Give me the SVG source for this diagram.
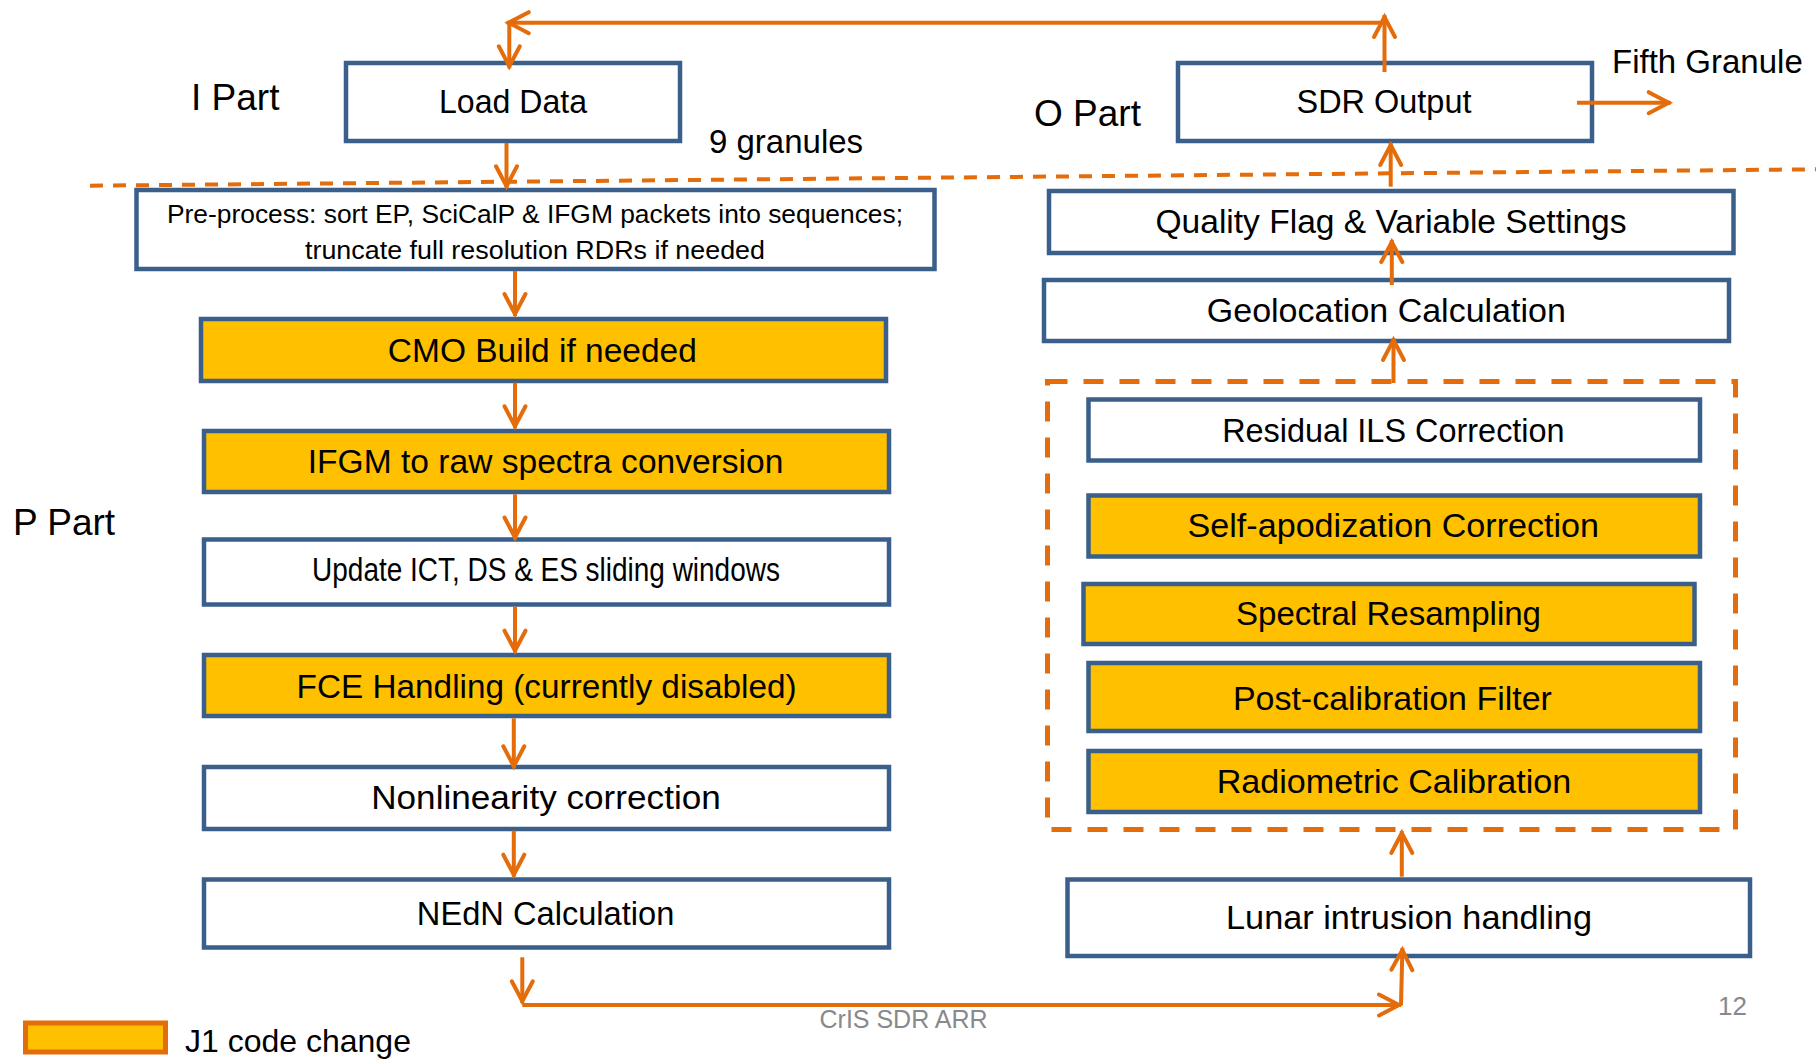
<svg xmlns="http://www.w3.org/2000/svg" width="1816" height="1059" viewBox="0 0 1816 1059">
<defs>
<marker id="arr" viewBox="-26 -14 30 28" markerUnits="userSpaceOnUse" markerWidth="30" markerHeight="28" refX="0" refY="0" orient="auto" overflow="visible">
<path d="M-22,-10.5 L-2,0 L-22,10.5" fill="none" stroke="#E46C0A" stroke-width="4" stroke-linecap="round" stroke-linejoin="miter"/>
</marker>
<style>
.box{fill:#FFFFFF;stroke:#3A5F8B;stroke-width:4.5}
.hl{fill:#FFC000;stroke:#3A5F8B;stroke-width:4.5}
.t{font-family:"Liberation Sans",Arial,sans-serif;font-size:33px;fill:#000000;text-anchor:middle}
.s{font-size:26.5px}
.lbl{font-family:"Liberation Sans",Arial,sans-serif;fill:#000000}
.gray{font-family:"Liberation Sans",Arial,sans-serif;fill:#898989}
.c{fill:none;stroke:#E46C0A;stroke-width:4}
.ca{fill:none;stroke:#E46C0A;stroke-width:4;marker-end:url(#arr)}
</style>
</defs>
<rect width="1816" height="1059" fill="#FFFFFF"/>

<g id="separators">
<line x1="90" y1="185.7" x2="1816" y2="169.3" stroke="#E46C0A" stroke-width="4" stroke-dasharray="13 10"/>
<rect id="group-box" x="1047.5" y="381.5" width="688" height="448" fill="none" stroke="#E46C0A" stroke-width="5" stroke-dasharray="20 16"/>
</g>

<g id="labels">
<text class="lbl" x="191" y="110" font-size="37">I Part</text>
<text class="lbl" x="709" y="153" font-size="33">9 granules</text>
<text class="lbl" x="1034" y="126" font-size="37">O Part</text>
<text class="lbl" x="1612" y="73" font-size="33">Fifth Granule</text>
<text class="lbl" x="13" y="535" font-size="37">P Part</text>
<text class="gray" x="819.5" y="1028.3" font-size="25">CrIS SDR ARR</text>
<text class="gray" x="1718" y="1015" font-size="26">12</text>
</g>

<g id="legend">
<rect x="25.5" y="1023" width="140" height="29" fill="#FFC000" stroke="#E46C0A" stroke-width="5"/>
<text class="lbl" x="185" y="1052" font-size="32">J1 code change</text>
</g>

<g id="n-load"><rect class="box" x="346" y="63" width="334" height="78"/><text class="t" x="513" y="113" textLength="148" lengthAdjust="spacingAndGlyphs">Load Data</text></g>
<g id="n-sdr"><rect class="box" x="1178" y="63" width="414" height="78"/><text class="t" x="1384" y="113" textLength="175" lengthAdjust="spacingAndGlyphs">SDR Output</text></g>
<g id="n-pre"><rect class="box" x="136.5" y="190" width="798" height="79"/>
<text class="t s" x="535" y="222.7" textLength="736" lengthAdjust="spacingAndGlyphs">Pre-process: sort EP, SciCalP &amp; IFGM packets into sequences;</text>
<text class="t s" x="535" y="259" textLength="460" lengthAdjust="spacingAndGlyphs">truncate full resolution RDRs if needed</text></g>
<g id="n-cmo"><rect class="hl" x="201" y="319" width="685" height="62"/><text class="t" x="542.3" y="361.7" textLength="309" lengthAdjust="spacingAndGlyphs">CMO Build if needed</text></g>
<g id="n-ifgm"><rect class="hl" x="204" y="431" width="685" height="61"/><text class="t" x="545.6" y="473.3" textLength="475.6" lengthAdjust="spacingAndGlyphs">IFGM to raw spectra conversion</text></g>
<g id="n-update"><rect class="box" x="204" y="539.5" width="685" height="65"/><text class="t" x="546" y="580.7" font-size="27.5" textLength="467.8" lengthAdjust="spacingAndGlyphs">Update ICT, DS &amp; ES sliding windows</text></g>
<g id="n-fce"><rect class="hl" x="204" y="655" width="685" height="61"/><text class="t" x="546.6" y="698" textLength="500" lengthAdjust="spacingAndGlyphs">FCE Handling (currently disabled)</text></g>
<g id="n-nonlin"><rect class="box" x="204" y="767" width="685" height="62"/><text class="t" x="546" y="809" textLength="349.6" lengthAdjust="spacingAndGlyphs">Nonlinearity correction</text></g>
<g id="n-nedn"><rect class="box" x="204" y="879.5" width="685" height="68"/><text class="t" x="545.6" y="925" textLength="257.5" lengthAdjust="spacingAndGlyphs">NEdN Calculation</text></g>

<g id="n-quality"><rect class="box" x="1049" y="191" width="684.5" height="62"/><text class="t" x="1391" y="233" textLength="471" lengthAdjust="spacingAndGlyphs">Quality Flag &amp; Variable Settings</text></g>
<g id="n-geo"><rect class="box" x="1044" y="280" width="685" height="61"/><text class="t" x="1386.3" y="321.7" textLength="359" lengthAdjust="spacingAndGlyphs">Geolocation Calculation</text></g>
<g id="n-ils"><rect class="box" x="1088.5" y="399.5" width="611.5" height="61"/><text class="t" x="1393.4" y="441.7" textLength="342.5" lengthAdjust="spacingAndGlyphs">Residual ILS Correction</text></g>
<g id="n-selfapod"><rect class="hl" x="1088.5" y="495.5" width="611.5" height="61"/><text class="t" x="1393.3" y="537.3" textLength="411.5" lengthAdjust="spacingAndGlyphs">Self-apodization Correction</text></g>
<g id="n-resamp"><rect class="hl" x="1083.5" y="584" width="611" height="60"/><text class="t" x="1388.5" y="625" textLength="305" lengthAdjust="spacingAndGlyphs">Spectral Resampling</text></g>
<g id="n-postcal"><rect class="hl" x="1088.5" y="663" width="611.5" height="68"/><text class="t" x="1392.4" y="710" textLength="319" lengthAdjust="spacingAndGlyphs">Post-calibration Filter</text></g>
<g id="n-radcal"><rect class="hl" x="1088.5" y="751" width="611.5" height="61"/><text class="t" x="1394" y="793.3" textLength="354.6" lengthAdjust="spacingAndGlyphs">Radiometric Calibration</text></g>
<g id="n-lunar"><rect class="box" x="1067.5" y="879.5" width="682.5" height="76.5"/><text class="t" x="1409" y="929.3" textLength="366" lengthAdjust="spacingAndGlyphs">Lunar intrusion handling</text></g>

<g id="connectors">
<line class="ca" x1="1384.5" y1="72" x2="1384.5" y2="15"/>
<line class="ca" x1="1384.5" y1="22.7" x2="506.7" y2="22.7"/>
<line class="ca" x1="509.3" y1="22.7" x2="509.3" y2="68.3"/>
<line class="ca" x1="506.5" y1="143" x2="506.5" y2="188.3"/>
<line class="ca" x1="515" y1="271" x2="515" y2="316"/>
<line class="ca" x1="515" y1="382.7" x2="515" y2="428.3"/>
<line class="ca" x1="515" y1="494.3" x2="515" y2="539.5"/>
<line class="ca" x1="515" y1="606.7" x2="515" y2="652.7"/>
<line class="ca" x1="513.8" y1="718.3" x2="513.8" y2="768.3"/>
<line class="ca" x1="513.8" y1="830.7" x2="513.8" y2="876.7"/>
<line class="ca" x1="522.3" y1="957.3" x2="522.3" y2="1003.3"/>
<line class="ca" x1="522.3" y1="1005" x2="1401" y2="1005"/>
<line class="ca" x1="1401" y1="1005" x2="1402.4" y2="948"/>
<line class="ca" x1="1401.8" y1="876.7" x2="1401.8" y2="831"/>
<line class="ca" x1="1393.5" y1="383" x2="1393.5" y2="338"/>
<line class="ca" x1="1391.8" y1="285" x2="1391.8" y2="240"/>
<line class="ca" x1="1390.7" y1="186.7" x2="1390.7" y2="143"/>
<line class="ca" x1="1577" y1="102.7" x2="1670.7" y2="102.7"/>
</g>
</svg>
